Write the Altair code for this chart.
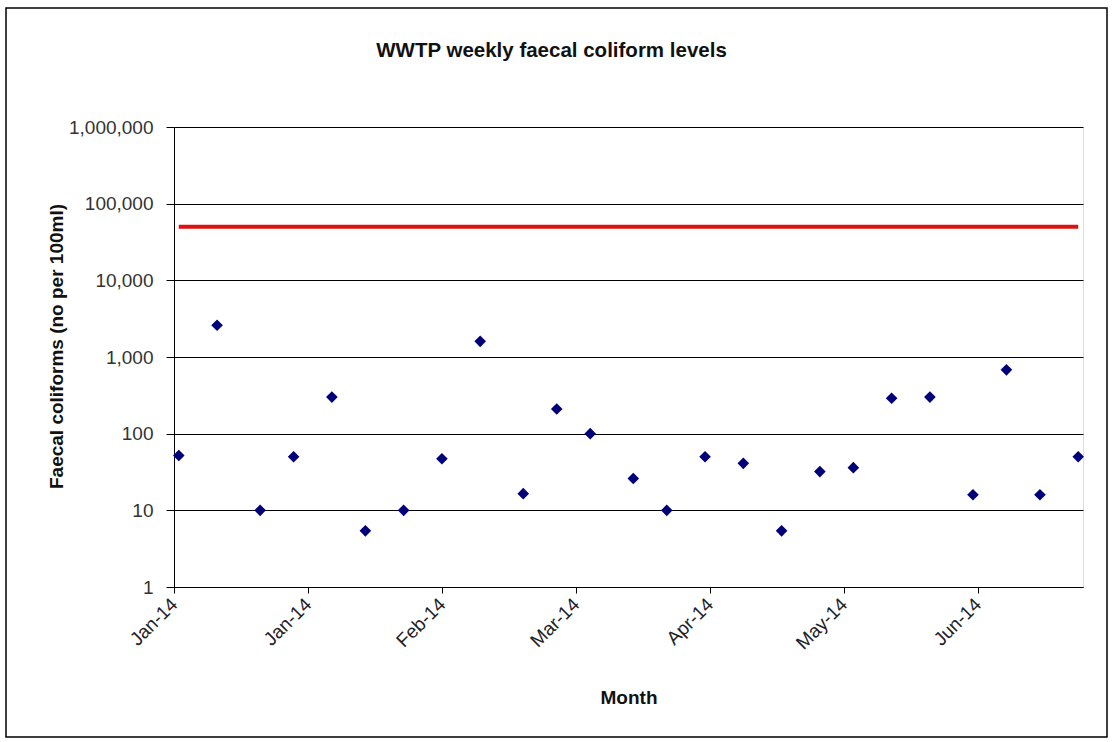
import altair as alt
import pandas as pd

# Weekly sampling dates and faecal coliform counts (no per 100ml)
sample_dates = [
    "2014-01-02", "2014-01-10", "2014-01-19", "2014-01-26", "2014-02-03",
    "2014-02-10", "2014-02-18", "2014-02-26", "2014-03-06", "2014-03-15",
    "2014-03-22", "2014-03-29", "2014-04-07", "2014-04-14", "2014-04-22",
    "2014-04-30", "2014-05-08", "2014-05-16", "2014-05-23", "2014-05-31",
    "2014-06-08", "2014-06-17", "2014-06-24", "2014-07-01", "2014-07-09",
]
coliform_counts = [
    52, 2600, 10, 50, 300,
    5.4, 10, 47, 1600, 16.5,
    210, 100, 26, 10, 50,
    41, 5.4, 32, 36, 290,
    300, 16, 680, 16, 50,
]

# Discharge limit
limit_value = 50000

# Axis ticks: every 28 days from 1 Jan, and log decades
tick_dates = [(2014, 1, 1), (2014, 1, 29), (2014, 2, 26), (2014, 3, 26),
              (2014, 4, 23), (2014, 5, 21), (2014, 6, 18)]
y_ticks = [1, 10, 100, 1000, 10000, 100000, 1000000]

samples = pd.DataFrame({"date": sample_dates, "count": coliform_counts})
limit = pd.DataFrame({"date": [sample_dates[0], sample_dates[-1]],
                      "count": [limit_value, limit_value]})

FONT = "Liberation Sans"

x_scale = alt.Scale(
    type="utc",
    domain=[alt.DateTime(year=2014, month=1, date=1, utc=True),
            alt.DateTime(year=2014, month=7, date=10, utc=True)],
)
y_scale = alt.Scale(type="log", domain=[1, 1000000], nice=False)

x_axis = alt.Axis(
    title="Month",
    values=[alt.DateTime(year=y, month=m, date=d, utc=True) for y, m, d in tick_dates],
    format="%b-%y",
    labelAngle=-45,
    labelAlign="right",
    labelBaseline="middle",
    labelPadding=8,
    labelFontSize=19,
    labelColor="#222222",
    labelFont=FONT,
    tickSize=6,
    tickColor="#000000",
    domainColor="#000000",
    grid=False,
    titleFont=FONT,
    titleFontSize=19,
    titleFontWeight="bold",
    titleColor="#111111",
    titleY=101,
    titleBaseline="top",
)
y_axis = alt.Axis(
    title="Faecal coliforms (no per 100ml)",
    values=y_ticks,
    format=",d",
    labelFontSize=19,
    labelColor="#333333",
    labelFont=FONT,
    labelPadding=13,
    tickSize=8,
    tickColor="#000000",
    domainColor="#000000",
    grid=True,
    gridColor="#000000",
    gridWidth=1,
    titleFont=FONT,
    titleFontSize=19,
    titleFontWeight="bold",
    titleColor="#111111",
    titleX=-118,
    titleY=219,
    titleBaseline="middle",
)

points = alt.Chart(samples).mark_point(
    shape="diamond", filled=True, size=135, color="#00007A", opacity=1
).encode(
    x=alt.X("date:T", scale=x_scale, axis=x_axis),
    y=alt.Y("count:Q", scale=y_scale, axis=y_axis),
)

limit_line = alt.Chart(limit).mark_line(color="#DD1010", strokeWidth=4).encode(
    x=alt.X("date:T", scale=x_scale),
    y=alt.Y("count:Q", scale=y_scale),
)

# Outer frame around the whole figure
frame = alt.Chart(alt.Data(values=[{}])).mark_rect(
    fill=None, stroke="#000000", strokeWidth=1.5
).encode(
    x=alt.value(-168), x2=alt.value(933),
    y=alt.value(-119), y2=alt.value(610),
)

chart = alt.layer(frame, limit_line, points).properties(
    width=909,
    height=460,
    title=alt.TitleParams(
        "WWTP weekly faecal coliform levels",
        font=FONT, fontSize=20.5, fontWeight="bold", color="#111111",
        anchor="middle", baseline="alphabetic", offset=-70, dx=-77,
    ),
    padding={"left": 5, "top": 7, "right": 0, "bottom": 0},
).configure_view(
    stroke="#555555", strokeWidth=1
).configure(
    background="#ffffff"
)

chart.save("out.html", embed_options={"renderer": "svg", "actions": False})
